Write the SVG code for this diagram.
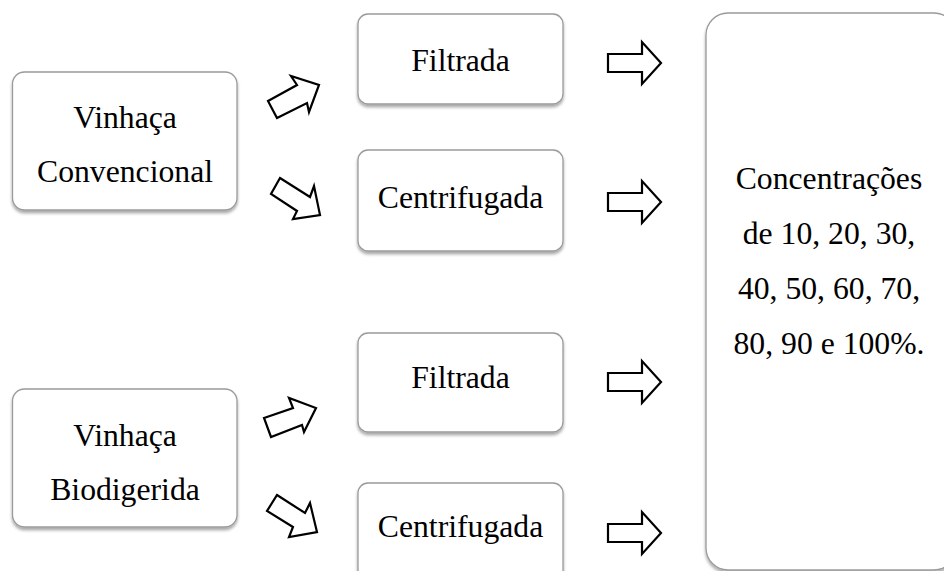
<svg xmlns="http://www.w3.org/2000/svg" width="944" height="571" viewBox="0 0 944 571">
<defs>
<filter id="sh" x="-10%" y="-10%" width="120%" height="125%">
<feDropShadow dx="0" dy="2.5" stdDeviation="1.8" flood-color="#000" flood-opacity="0.35"/>
</filter>
</defs>
<style>
.box{fill:#fff;stroke:#9a9a9a;stroke-width:1.3;filter:url(#sh)}
.t{font-family:"Liberation Serif","Times New Roman",serif;font-size:31.7px;fill:#000;text-anchor:middle}
.arr{fill:#fff;stroke:#000;stroke-width:2.2;stroke-linejoin:miter}
</style>
<rect width="944" height="571" fill="#fff"/>
<g id="vinhaca-convencional">
<rect class="box" x="12.5" y="72" width="224.5" height="138" rx="12"/>
<text class="t" x="125" y="128">Vinhaça</text>
<text class="t" x="125" y="182">Convencional</text>
</g>
<g id="vinhaca-biodigerida">
<rect class="box" x="12.5" y="389" width="224.5" height="138" rx="12"/>
<text class="t" x="125" y="446">Vinhaça</text>
<text class="t" x="125" y="500">Biodigerida</text>
</g>
<g id="filtrada-1">
<rect class="box" x="358" y="14" width="205" height="90" rx="10"/>
<text class="t" x="460.5" y="71">Filtrada</text>
</g>
<g id="centrifugada-1">
<rect class="box" x="358" y="150" width="205" height="101" rx="10"/>
<text class="t" x="460.5" y="208">Centrifugada</text>
</g>
<g id="filtrada-2">
<rect class="box" x="358" y="333" width="205" height="99" rx="10"/>
<text class="t" x="460.5" y="388">Filtrada</text>
</g>
<g id="centrifugada-2">
<rect class="box" x="358" y="483" width="205" height="100" rx="10"/>
<text class="t" x="460.5" y="537">Centrifugada</text>
</g>
<g id="concentracoes">
<rect class="box" x="706" y="13" width="250" height="557" rx="22"/>
<text class="t" x="829" y="189">Concentrações</text>
<text class="t" x="829" y="244">de 10, 20, 30,</text>
<text class="t" x="829" y="299">40, 50, 60, 70,</text>
<text class="t" x="829" y="354">80, 90 e 100%.</text>
</g>
<g id="connectors">
<polygon class="arr" points="268,101 297,85 291,76 319,85 309,112 307,103 277,118"/>
<polygon class="arr" points="280,178 310,197 314,186 320,215 293,219 297,211 271,194"/>
<polygon class="arr" points="264,418 293,408 289,398 316,408 304,432 302,425 271,437"/>
<polygon class="arr" points="277,495 305,513 310,503 317,532 289,537 293,527 267,511"/>
<polygon class="arr" points="608,54 642,54 642,42 661,63 642,84 642,72 608,72"/>
<polygon class="arr" points="608,193 642,193 642,181 661,202 642,223 642,211 608,211"/>
<polygon class="arr" points="608,373 642,373 642,361 661,382 642,403 642,391 608,391"/>
<polygon class="arr" points="608,524 642,524 642,512 661,533 642,554 642,542 608,542"/>
</g>
</svg>
